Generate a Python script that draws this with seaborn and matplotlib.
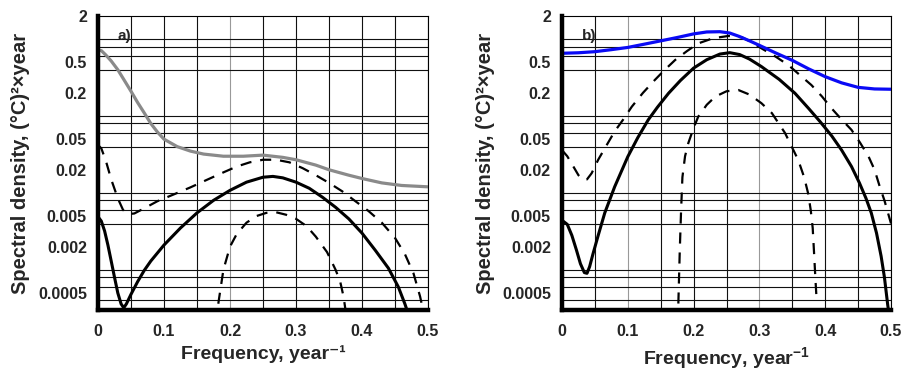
import numpy as np
import pandas as pd
import matplotlib
matplotlib.use("Agg")
import matplotlib.pyplot as plt
import seaborn as sns
from matplotlib.ticker import NullFormatter

sns.set_style("white")
plt.rcParams["font.family"] = ["Liberation Sans", "DejaVu Sans"]
plt.rcParams["font.weight"] = "bold"
plt.rcParams["mathtext.fontset"] = "custom"
plt.rcParams["mathtext.rm"] = "Liberation Sans:bold"
plt.rcParams["mathtext.bf"] = "Liberation Sans:bold"
plt.rcParams["mathtext.it"] = "Liberation Sans:bold"

# ---------------- data ----------------
# panel a
freq_a_gray = [0, 0.005, 0.012, 0.02, 0.03, 0.04, 0.05, 0.06, 0.07, 0.08, 0.09, 0.1, 0.12, 0.14, 0.16,
               0.19, 0.22, 0.25, 0.28, 0.3, 0.33, 0.35, 0.38, 0.4, 0.43, 0.46, 0.5]
psd_a_gray = [0.72, 0.71, 0.62, 0.52, 0.40, 0.29, 0.21, 0.15, 0.11, 0.08, 0.062, 0.05, 0.04, 0.035, 0.032,
              0.030, 0.030, 0.031, 0.029, 0.027, 0.023, 0.020, 0.017, 0.0154, 0.0135, 0.0125, 0.012]

freq_a_solid = [0, 0.005, 0.01, 0.015, 0.02, 0.025, 0.03, 0.035, 0.039, 0.043, 0.05, 0.06, 0.07, 0.08,
                0.1, 0.125, 0.15, 0.175, 0.2, 0.225, 0.25, 0.265, 0.28, 0.3, 0.32, 0.34, 0.36, 0.38,
                0.4, 0.42, 0.44, 0.455, 0.465, 0.475]
psd_a_solid = [0.0049, 0.0043, 0.0032, 0.0021, 0.0013, 0.0008, 0.0005, 0.00036, 0.00032, 0.00036,
               0.00048, 0.0007, 0.00098, 0.0013, 0.0021, 0.0035, 0.0055, 0.008, 0.0108, 0.0138,
               0.016, 0.0164, 0.0157, 0.0138, 0.0115, 0.0088, 0.0065, 0.0046, 0.003, 0.0018,
               0.00105, 0.0006, 0.00036, 0.0002]

freq_a_dash_hi = [0, 0.005, 0.012, 0.02, 0.03, 0.038, 0.045, 0.055, 0.07, 0.09, 0.114, 0.14, 0.165,
                  0.19, 0.21, 0.23, 0.25, 0.27, 0.29, 0.31, 0.33, 0.35, 0.37, 0.39, 0.41, 0.43,
                  0.45, 0.465, 0.478, 0.488, 0.497]
psd_a_dash_hi = [0.042, 0.038, 0.026, 0.015, 0.0085, 0.006, 0.0053, 0.0054, 0.0063, 0.0078, 0.0095,
                 0.0118, 0.0148, 0.0185, 0.022, 0.025, 0.027, 0.027, 0.025, 0.021, 0.017, 0.0135,
                 0.0105, 0.0078, 0.0058, 0.0041, 0.0026, 0.0016, 0.0009, 0.00045, 0.0002]

freq_a_dash_lo = [0.178, 0.183, 0.19, 0.2, 0.21, 0.225, 0.24, 0.255, 0.27, 0.285, 0.3, 0.316, 0.33,
                  0.347, 0.36, 0.367, 0.372, 0.378]
psd_a_dash_lo = [0.0002, 0.0004, 0.001, 0.002, 0.0029, 0.0041, 0.005, 0.0055, 0.0056, 0.0052,
                 0.0046, 0.0037, 0.0027, 0.0017, 0.001, 0.0007, 0.00045, 0.0002]

# panel b
freq_b_blue = [0, 0.025, 0.05, 0.075, 0.1, 0.125, 0.15, 0.175, 0.2, 0.22, 0.24, 0.255, 0.27, 0.285,
               0.3, 0.325, 0.35, 0.375, 0.4, 0.425, 0.45, 0.475, 0.5]
psd_b_blue = [0.655, 0.665, 0.687, 0.73, 0.78, 0.86, 0.95, 1.05, 1.17, 1.24, 1.25, 1.2, 1.08, 0.95,
              0.83, 0.66, 0.53, 0.41, 0.325, 0.27, 0.236, 0.225, 0.223]

freq_b_solid = [0, 0.008, 0.015, 0.022, 0.028, 0.034, 0.038, 0.042, 0.047, 0.055, 0.065, 0.08, 0.1,
                0.115, 0.131, 0.145, 0.162, 0.18, 0.2, 0.22, 0.24, 0.255, 0.27, 0.285, 0.303, 0.33,
                0.354, 0.375, 0.392, 0.41, 0.425, 0.44, 0.452, 0.462, 0.47, 0.478, 0.485, 0.49,
                0.495, 0.499]
psd_b_solid = [0.0044, 0.0039, 0.0028, 0.0018, 0.0012, 0.00092, 0.0009, 0.0011, 0.0016, 0.0028,
               0.0055, 0.012, 0.0296, 0.052, 0.089, 0.13, 0.198, 0.29, 0.42, 0.54, 0.64, 0.667,
               0.63, 0.55, 0.44, 0.3, 0.198, 0.125, 0.085, 0.055, 0.036, 0.022, 0.0135, 0.0085,
               0.0055, 0.003, 0.0015, 0.0008, 0.00035, 0.0002]

freq_b_dash_hi = [0, 0.008, 0.016, 0.025, 0.032, 0.038, 0.045, 0.055, 0.068, 0.08, 0.093, 0.106,
                  0.123, 0.141, 0.155, 0.172, 0.19, 0.207, 0.23, 0.253, 0.273, 0.29, 0.303, 0.325,
                  0.344, 0.36, 0.379, 0.395, 0.41, 0.425, 0.44, 0.453, 0.466, 0.475, 0.483, 0.49, 0.5]
psd_b_dash_hi = [0.036, 0.03, 0.023, 0.017, 0.0148, 0.015, 0.018, 0.027, 0.042, 0.063, 0.09, 0.132,
                 0.2, 0.294, 0.39, 0.536, 0.7, 0.88, 1.03, 1.1, 1.06, 0.9, 0.76, 0.59, 0.46, 0.35,
                 0.253, 0.18, 0.125, 0.09, 0.066, 0.045, 0.0296, 0.02, 0.012, 0.008, 0.004]

freq_b_dash_lo = [0.176, 0.1775, 0.179, 0.181, 0.183, 0.187, 0.192, 0.2, 0.207, 0.22, 0.233, 0.25,
                  0.268, 0.285, 0.303, 0.319, 0.339, 0.359, 0.368, 0.374, 0.378, 0.381, 0.383,
                  0.385, 0.387]
psd_b_dash_lo = [0.0002, 0.0006, 0.0018, 0.006, 0.016, 0.03, 0.0445, 0.07, 0.098, 0.14, 0.179,
                 0.21, 0.218, 0.19, 0.147, 0.109, 0.06, 0.0268, 0.016, 0.0099, 0.006, 0.0035,
                 0.0017, 0.0008, 0.0004]

ytick_vals = [2, 0.5, 0.2, 0.05, 0.02, 0.005, 0.002, 0.0005]
ytick_labels = ["2", "0.5", "0.2", "0.05", "0.02", "0.005", "0.002", "0.0005"]
ygrid_vals = [1, 0.8, 0.6, 0.4, 0.2, 0.1, 0.08, 0.06, 0.04, 0.02, 0.01, 0.008, 0.006,
              0.004, 0.002, 0.001, 0.0008, 0.0006, 0.0004]
ygrid_gray = [0.8, 0.2, 0.04, 0.001]
xtick_vals = [0, 0.1, 0.2, 0.3, 0.4, 0.5]
xtick_labels = ["0", "0.1", "0.2", "0.3", "0.4", "0.5"]
xgrid_minor = [0.05, 0.15, 0.25, 0.35, 0.45]

panel_names = ["a)", "b)"]
xlabels = ["Frequency, year\u207b\u00b9", r"Frequency, year$^{-1}$"]
ylabel = "Spectral density, (\u00b0C)\u00b2\u00d7year"
xgray = [[0.15, 0.2, 0.35], [0.1, 0.15, 0.3, 0.35]]

# ---------------- figure ----------------
fig = plt.figure(figsize=(9.06, 3.69), dpi=100)
W, H = 906, 369
ax_a = fig.add_axes([98 / W, (H - 310) / H, 330 / W, 294 / H])
ax_b = fig.add_axes([562 / W, (H - 310) / H, 329 / W, 294 / H])

DASH = (0, (5.0, 4.0))


def line(ax, x, y, **kw):
    sns.lineplot(x=np.array(x), y=np.array(y), ax=ax, sort=False, estimator=None, **kw)


line(ax_a, freq_a_gray, psd_a_gray, color="#8a8a8a", lw=2.3)
line(ax_a, freq_a_dash_hi, psd_a_dash_hi, color="black", lw=1.6, linestyle=DASH)
line(ax_a, freq_a_dash_lo, psd_a_dash_lo, color="black", lw=1.6, linestyle=DASH)
line(ax_a, freq_a_solid, psd_a_solid, color="black", lw=2.2)

line(ax_b, freq_b_dash_hi, psd_b_dash_hi, color="black", lw=1.6, linestyle=DASH)
line(ax_b, freq_b_dash_lo, psd_b_dash_lo, color="black", lw=1.6, linestyle=DASH)
line(ax_b, freq_b_solid, psd_b_solid, color="black", lw=2.2)
line(ax_b, freq_b_blue, psd_b_blue, color="#0a0af5", lw=2.3)

for i, ax in enumerate([ax_a, ax_b]):
    ax.set_yscale("log")
    ax.set_ylim(0.0003, 2)
    ax.set_xlim(0, 0.5)
    ax.set_yticks(ytick_vals, ytick_labels)
    ax.set_yticks(ygrid_vals, minor=True)
    ax.yaxis.set_minor_formatter(NullFormatter())
    ax.set_xticks(xtick_vals, xtick_labels)
    ax.set_xticks(xgrid_minor, minor=True)
    ax.tick_params(which="both", length=0)
    ax.tick_params(axis="y", which="major", pad=8, labelsize=11.5)
    ax.tick_params(axis="x", which="major", pad=10, labelsize=11.5)
    ax.set_axisbelow(True)
    ax.grid(False)
    ax.grid(True, axis="y", which="minor", color="#111111", lw=0.8)
    ax.grid(True, axis="x", which="both", color="#111111", lw=0.8)
    for t in ax.yaxis.get_minor_ticks():
        v = t.get_loc()
        if any(abs(v - g) / g < 1e-6 for g in ygrid_gray):
            t.gridline.set_color("#999999")
    for t in ax.xaxis.get_major_ticks() + ax.xaxis.get_minor_ticks():
        v = t.get_loc()
        if any(abs(v - g) < 1e-9 for g in xgray[i]):
            t.gridline.set_color("#999999")
    for s in ["left", "bottom"]:
        ax.spines[s].set_linewidth(3.2)
        ax.spines[s].set_color("black")
    for s in ["top", "right"]:
        ax.spines[s].set_linewidth(0.8)
        ax.spines[s].set_color("black")
    ax.set_ylabel(ylabel, fontsize=14.5, fontweight="bold")
    ax.yaxis.set_label_coords(-0.205, 0.5)
    ax.set_xlabel(xlabels[i], fontsize=14, fontweight="bold")
    ax.xaxis.set_label_coords(0.5, -0.118)
    ax.text(0.06, 0.955, panel_names[i], transform=ax.transAxes, fontsize=11,
            fontweight="bold", ha="left", va="top")

fig.savefig("out.png", dpi=100)
